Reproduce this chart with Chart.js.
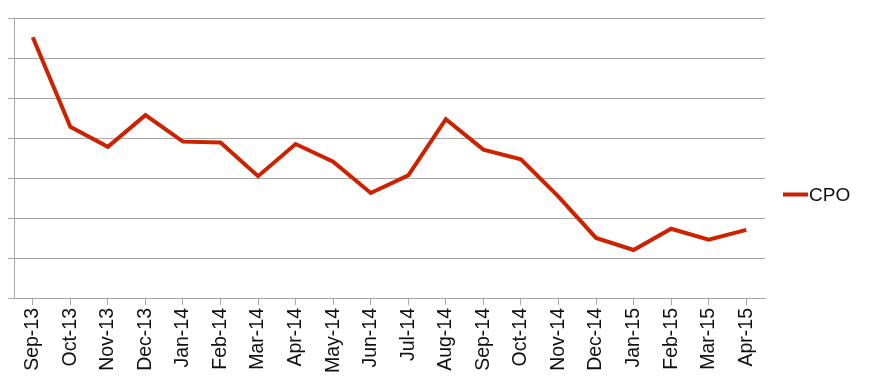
<!DOCTYPE html>
<html>
<head>
<meta charset="utf-8">
<script src="https://cdn.jsdelivr.net/npm/chart.js@4/dist/chart.umd.min.js"></script>
<style>
  html, body { margin: 0; padding: 0; background: #fff; }
  #wrap { width: 870px; height: 388px; position: relative; }
</style>
</head>
<body>
<div id="wrap"><canvas id="chart"></canvas></div>
<script>
const months = [
  "Sep-13", "Oct-13", "Nov-13", "Dec-13", "Jan-14", "Feb-14", "Mar-14",
  "Apr-14", "May-14", "Jun-14", "Jul-14", "Aug-14", "Sep-14", "Oct-14",
  "Nov-14", "Dec-14", "Jan-15", "Feb-15", "Mar-15", "Apr-15"
];
const cpoValues = [
  6.52, 4.29, 3.79, 4.58, 3.92, 3.9, 3.06,
  3.86, 3.42, 2.64, 3.08, 4.48, 3.72, 3.48,
  2.55, 1.52, 1.22, 1.75, 1.48, 1.72
];
const seriesName = "CPO";

const lineColor = "#cc2200";
const gridColor = "#a6a6a6";
const fontFamily = "'Liberation Sans', Arial, Helvetica, sans-serif";

// small legend on the right, drawn like the spreadsheet one
const sideLegend = {
  id: "sideLegend",
  afterDraw(chart) {
    const { ctx, chartArea } = chart;
    const y = (chartArea.top + chartArea.bottom) / 2 + 36;
    const x0 = chartArea.right + 18;
    ctx.save();
    ctx.strokeStyle = lineColor;
    ctx.lineWidth = 4;
    ctx.beginPath();
    ctx.moveTo(x0, y);
    ctx.lineTo(x0 + 25, y);
    ctx.stroke();
    ctx.fillStyle = "#111";
    ctx.font = "19px " + fontFamily;
    ctx.textBaseline = "middle";
    ctx.fillText(chart.data.datasets[0].label, x0 + 26, y + 1);
    ctx.restore();
  }
};

new Chart(document.getElementById("chart").getContext("2d"), {
  type: "line",
  data: {
    labels: months,
    datasets: [
      {
        label: seriesName,
        data: cpoValues,
        borderColor: lineColor,
        backgroundColor: lineColor,
        borderWidth: 4,
        pointRadius: 0,
        tension: 0,
        fill: false,
      },
    ],
  },
  options: {
    responsive: true,
    maintainAspectRatio: false,
    animation: false,
    layout: { padding: { left: 8, right: 105, top: 18, bottom: 12 } },
    plugins: {
      legend: { display: false },
      tooltip: { enabled: false },
    },
    scales: {
      x: {
        offset: true,
        grid: {
          display: true,
          drawOnChartArea: false,
          drawTicks: true,
          tickLength: 6,
          color: gridColor,
        },
        border: { color: gridColor },
        ticks: {
          autoSkip: false,
          maxRotation: 90,
          minRotation: 90,
          padding: 3,
          color: "#111",
          font: { family: fontFamily, size: 19.5 },
        },
      },
      y: {
        min: 0,
        max: 7,
        grid: { color: gridColor, tickLength: 6 },
        border: { color: gridColor },
        ticks: { display: false, stepSize: 1 },
      },
    },
  },
  plugins: [sideLegend],
});
</script>
</body>
</html>
